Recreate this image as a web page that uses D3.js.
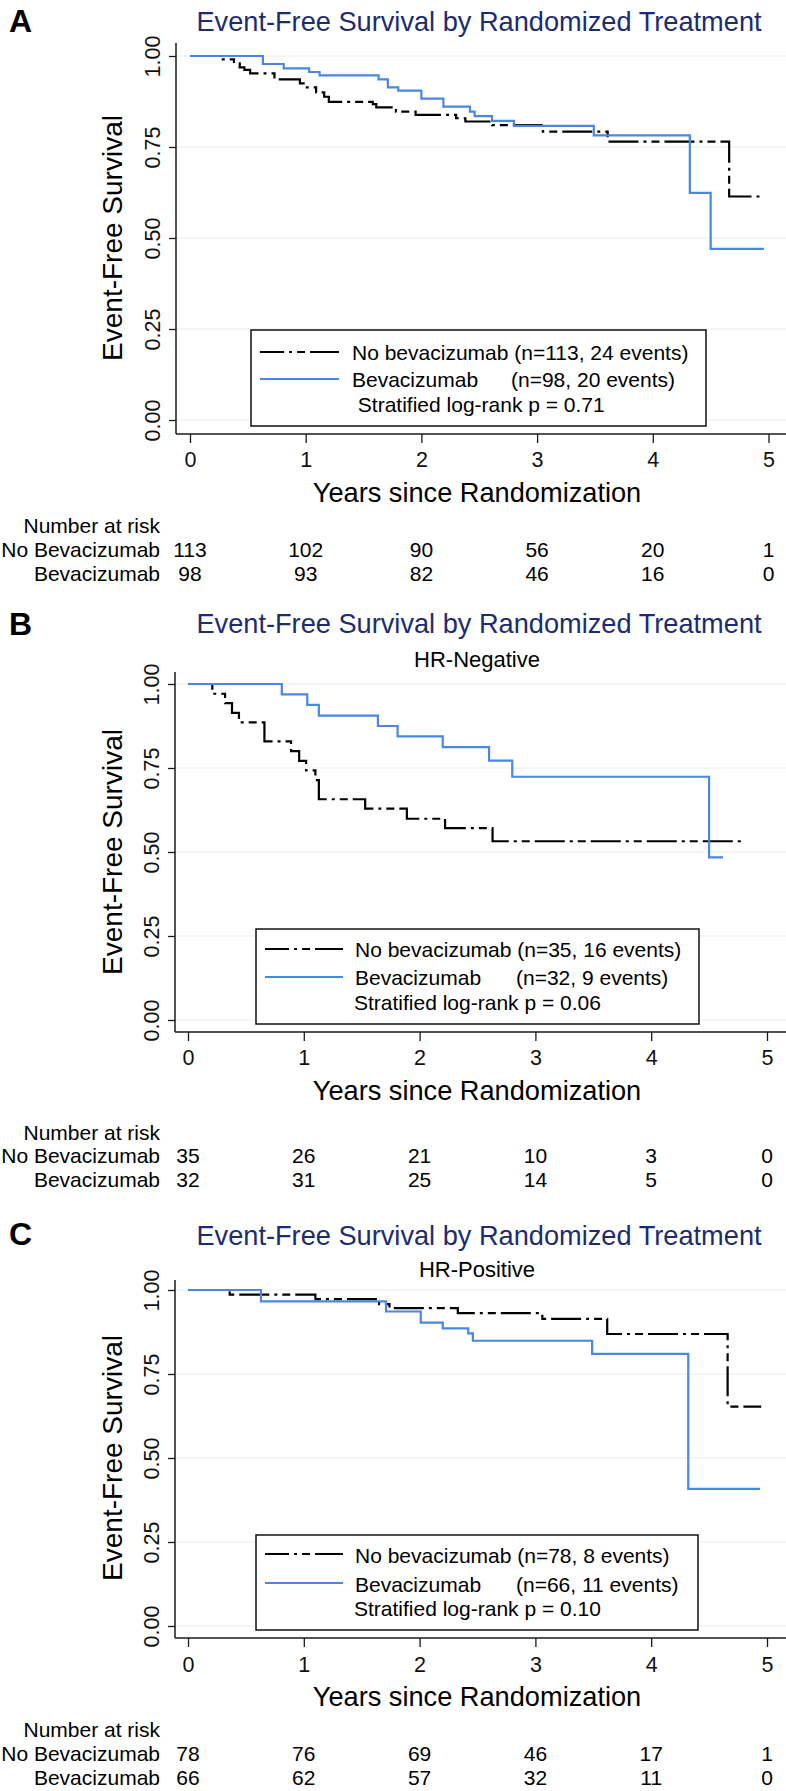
<!DOCTYPE html>
<html><head><meta charset="utf-8">
<script src="https://cdn.jsdelivr.net/npm/d3@7"></script>
<style>
html,body{margin:0;padding:0;background:#fff;}
svg{display:block;font-family:"Liberation Sans",Arial,Helvetica,sans-serif;}
</style></head><body>
<svg id="chart" width="786" height="1791"></svg>
<script>
// ---------------- data ----------------
const xTickValues = [0, 1, 2, 3, 4, 5];
const yTickValues = [0, 0.25, 0.5, 0.75, 1];
const riskRowLabels = ["No Bevacizumab", "Bevacizumab"];
const riskHeader = "Number at risk";
const titleText = "Event-Free Survival by Randomized Treatment";
const xTitleText = "Years since Randomization";
const yTitleText = "Event-Free Survival";
const panelLetters = ["A", "B", "C"];
const panelSubtitles = ["", "HR-Negative", "HR-Positive"];

// Panel A (all patients)
const aNoBevTime = [0, 0.27, 0.38, 0.43, 0.47, 0.52, 0.73, 0.95, 1.01, 1.09, 1.16, 1.20, 1.58, 1.61, 1.78, 1.95, 2.30, 2.38, 2.61, 3.05, 3.61, 4.66, 4.95];
const aNoBevSurv = [1, 0.991, 0.980, 0.969, 0.962, 0.952, 0.936, 0.925, 0.914, 0.900, 0.888, 0.874, 0.868, 0.859, 0.847, 0.838, 0.829, 0.820, 0.810, 0.792, 0.765, 0.614, 0.614];
const aBevTime = [0, 0.63, 0.81, 1.03, 1.12, 1.63, 1.71, 1.80, 2.00, 2.19, 2.42, 2.46, 2.61, 2.80, 3.49, 4.32, 4.50, 4.96];
const aBevSurv = [1, 0.978, 0.966, 0.956, 0.947, 0.936, 0.914, 0.905, 0.883, 0.861, 0.847, 0.835, 0.822, 0.808, 0.782, 0.624, 0.470, 0.470];
const aRiskNoBev = [113, 102, 90, 56, 20, 1];
const aRiskBev = [98, 93, 82, 46, 16, 0];
const aLegend = ["No bevacizumab (n=113, 24 events)", "Bevacizumab", "(n=98, 20 events)", " Stratified log-rank p = 0.71"];

// Panel B (HR-negative)
const bNoBevTime = [0, 0.21, 0.32, 0.38, 0.44, 0.66, 0.89, 0.96, 1.02, 1.10, 1.13, 1.53, 1.89, 2.22, 2.63, 4.80];
const bNoBevSurv = [1, 0.971, 0.943, 0.914, 0.886, 0.829, 0.800, 0.771, 0.743, 0.714, 0.657, 0.629, 0.599, 0.571, 0.532, 0.532];
const bBevTime = [0, 0.81, 1.03, 1.13, 1.64, 1.81, 2.20, 2.60, 2.80, 4.50, 4.62];
const bBevSurv = [1, 0.969, 0.938, 0.906, 0.875, 0.844, 0.812, 0.772, 0.724, 0.484, 0.484];
const bRiskNoBev = [35, 26, 21, 10, 3, 0];
const bRiskBev = [32, 31, 25, 14, 5, 0];
const bLegend = ["No bevacizumab (n=35, 16 events)", "Bevacizumab", "(n=32, 9 events)", "Stratified log-rank p = 0.06"];

// Panel C (HR-positive)
const cNoBevTime = [0, 0.36, 1.10, 1.65, 1.74, 2.33, 3.06, 3.62, 4.66, 4.95];
const cNoBevSurv = [1, 0.986, 0.973, 0.958, 0.946, 0.931, 0.914, 0.869, 0.653, 0.653];
const cBevTime = [0, 0.63, 1.71, 2.01, 2.20, 2.42, 2.46, 3.49, 4.32, 4.94];
const cBevSurv = [1, 0.966, 0.936, 0.903, 0.886, 0.871, 0.849, 0.810, 0.408, 0.408];
const cRiskNoBev = [78, 76, 69, 46, 17, 1];
const cRiskBev = [66, 62, 57, 32, 11, 0];
const cLegend = ["No bevacizumab (n=78, 8 events)", "Bevacizumab", "(n=66, 11 events)", "Stratified log-rank p = 0.10"];

// ---------------- styles ----------------
const BLUE = "#4a86e2";
const NAVY = "#1d2c6e";
const GRID = "#e4eff0";
const AXIS = "#1a1a1a";
const DASH = "30,5,3,5,8,5";
const W = 786;

// ---------------- layout ----------------
const layouts = [
  {letterY: 32, titleY: 31, subY: null, axisTop: 43, y1: 56, y0: 420, xAxisY: 434, axisX: 176, x0: 190, x5: 768.5,
   tickY: 467, xTitleY: 502, narY: 533, rowY: [557, 581],
   lg: {x: 251, y: 330, w: 455, h: 96, l: [352, 379], t: [360, 387, 412], tx: 352, tab: 511, t3x: 352, s1: 260, s2: 339}},
  {letterY: 635, titleY: 633, subY: 667, axisTop: 672, y1: 684, y0: 1020, xAxisY: 1032, axisX: 175, x0: 188, x5: 767,
   tickY: 1065, xTitleY: 1100, narY: 1140, rowY: [1163, 1187],
   lg: {x: 256, y: 929, w: 443, h: 95, l: [949, 977], t: [957, 985, 1010], tx: 355, tab: 516, t3x: 354, s1: 265, s2: 343}},
  {letterY: 1245, titleY: 1245, subY: 1277, axisTop: 1280, y1: 1290, y0: 1626, xAxisY: 1638, axisX: 175, x0: 188, x5: 767,
   tickY: 1672, xTitleY: 1706, narY: 1737, rowY: [1761, 1785],
   lg: {x: 256, y: 1535, w: 442, h: 95, l: [1554, 1583], t: [1563, 1592, 1616], tx: 355, tab: 516, t3x: 354, s1: 265, s2: 343}}
];

const panels = [
  {noBev: d3.zip(aNoBevTime, aNoBevSurv), bev: d3.zip(aBevTime, aBevSurv), risk: [aRiskNoBev, aRiskBev], legend: aLegend},
  {noBev: d3.zip(bNoBevTime, bNoBevSurv), bev: d3.zip(bBevTime, bBevSurv), risk: [bRiskNoBev, bRiskBev], legend: bLegend},
  {noBev: d3.zip(cNoBevTime, cNoBevSurv), bev: d3.zip(cBevTime, cBevSurv), risk: [cRiskNoBev, cRiskBev], legend: cLegend}
];

const svg = d3.select("#chart");

function drawPanel(i) {
  const p = panels[i], L = layouts[i];
  const g = svg.append("g");
  const x = d3.scaleLinear().domain([0, 5]).range([L.x0, L.x5]);
  const y = d3.scaleLinear().domain([0, 1]).range([L.y0, L.y1]);

  // letter & titles
  g.append("text").attr("x", 9).attr("y", L.letterY).attr("font-size", 32).attr("font-weight", "bold")
    .attr("fill", "#000").text(panelLetters[i]);
  g.append("text").attr("x", 479).attr("y", L.titleY).attr("text-anchor", "middle").attr("font-size", 27.2)
    .attr("fill", NAVY).text(titleText);
  if (L.subY) g.append("text").attr("x", 477).attr("y", L.subY).attr("text-anchor", "middle").attr("font-size", 22)
    .attr("fill", "#000").text(panelSubtitles[i]);

  // grid
  g.append("g").selectAll("line").data(yTickValues).join("line")
    .attr("x1", L.axisX).attr("x2", W).attr("y1", d => y(d)).attr("y2", d => y(d))
    .attr("stroke", GRID).attr("stroke-width", 1.2);

  // y axis
  const ya = g.append("g").attr("transform", `translate(${L.axisX},0)`)
    .call(d3.axisLeft(y).tickValues(yTickValues).tickFormat(d3.format(".2f")).tickSize(7).tickSizeOuter(0));
  ya.select(".domain").remove();
  ya.selectAll(".tick line").attr("stroke", AXIS).attr("stroke-width", 1.3);
  ya.selectAll(".tick text").attr("transform", "rotate(-90)").attr("x", 0).attr("y", -16).attr("dy", 0)
    .attr("text-anchor", "middle").attr("font-size", 21.5).attr("fill", "#111").attr("font-family", null);
  g.append("line").attr("x1", L.axisX).attr("x2", L.axisX).attr("y1", L.axisTop).attr("y2", L.xAxisY)
    .attr("stroke", AXIS).attr("stroke-width", 1.5);

  // x axis
  const xa = g.append("g").attr("transform", `translate(0,${L.xAxisY})`)
    .call(d3.axisBottom(x).tickValues(xTickValues).tickFormat(d3.format("d")).tickSize(9).tickSizeOuter(0));
  xa.select(".domain").remove();
  xa.selectAll(".tick line").attr("stroke", AXIS).attr("stroke-width", 1.3);
  xa.selectAll(".tick text").attr("y", L.tickY - L.xAxisY).attr("dy", 0).attr("font-size", 21.5)
    .attr("fill", "#111").attr("font-family", null);
  g.append("line").attr("x1", L.axisX).attr("x2", W).attr("y1", L.xAxisY).attr("y2", L.xAxisY)
    .attr("stroke", AXIS).attr("stroke-width", 1.5);

  // axis titles
  const yMid = (L.y0 + L.y1) / 2;
  g.append("text").attr("transform", `translate(122,${yMid}) rotate(-90)`).attr("text-anchor", "middle")
    .attr("font-size", 28).attr("fill", "#000").text(yTitleText);
  g.append("text").attr("x", 477).attr("y", L.xTitleY).attr("text-anchor", "middle")
    .attr("font-size", 27.2).attr("fill", "#000").text(xTitleText);

  // curves
  const line = d3.line().x(d => x(d[0])).y(d => y(d[1])).curve(d3.curveStepAfter);
  g.append("path").datum(p.noBev).attr("d", line).attr("fill", "none").attr("stroke", "#000")
    .attr("stroke-width", 2.2).attr("stroke-dasharray", DASH);
  g.append("path").datum(p.bev).attr("d", line).attr("fill", "none").attr("stroke", BLUE)
    .attr("stroke-width", 2.2);

  // legend
  const lg = L.lg;
  g.append("rect").attr("x", lg.x).attr("y", lg.y).attr("width", lg.w).attr("height", lg.h)
    .attr("fill", "#fff").attr("stroke", "#111").attr("stroke-width", 1.5);
  g.append("line").attr("x1", lg.s1).attr("x2", lg.s2).attr("y1", lg.l[0]).attr("y2", lg.l[0])
    .attr("stroke", "#000").attr("stroke-width", 2.2).attr("stroke-dasharray", DASH).attr("stroke-dashoffset", 6);
  g.append("line").attr("x1", lg.s1).attr("x2", lg.s2).attr("y1", lg.l[1]).attr("y2", lg.l[1])
    .attr("stroke", BLUE).attr("stroke-width", 2.2);
  const lt = g.append("g").attr("font-size", 21).attr("fill", "#000");
  lt.append("text").attr("x", lg.tx).attr("y", lg.t[0]).text(p.legend[0]);
  lt.append("text").attr("x", lg.tx).attr("y", lg.t[1]).text(p.legend[1]);
  lt.append("text").attr("x", lg.tab).attr("y", lg.t[1]).text(p.legend[2]);
  lt.append("text").attr("x", lg.t3x).attr("y", lg.t[2]).attr("xml:space", "preserve").style("white-space", "pre").text(p.legend[3]);

  // risk table
  const rt = g.append("g").attr("font-size", 21).attr("fill", "#000");
  rt.append("text").attr("x", 160).attr("y", L.narY).attr("text-anchor", "end").text(riskHeader);
  riskRowLabels.forEach((lab, r) => {
    rt.append("text").attr("x", 160).attr("y", L.rowY[r]).attr("text-anchor", "end").text(lab);
    rt.append("g").selectAll("text").data(p.risk[r]).join("text")
      .attr("x", (d, k) => x(xTickValues[k])).attr("y", L.rowY[r]).attr("text-anchor", "middle").text(d => d);
  });
}

[0, 1, 2].forEach(drawPanel);
</script>
</body></html>
